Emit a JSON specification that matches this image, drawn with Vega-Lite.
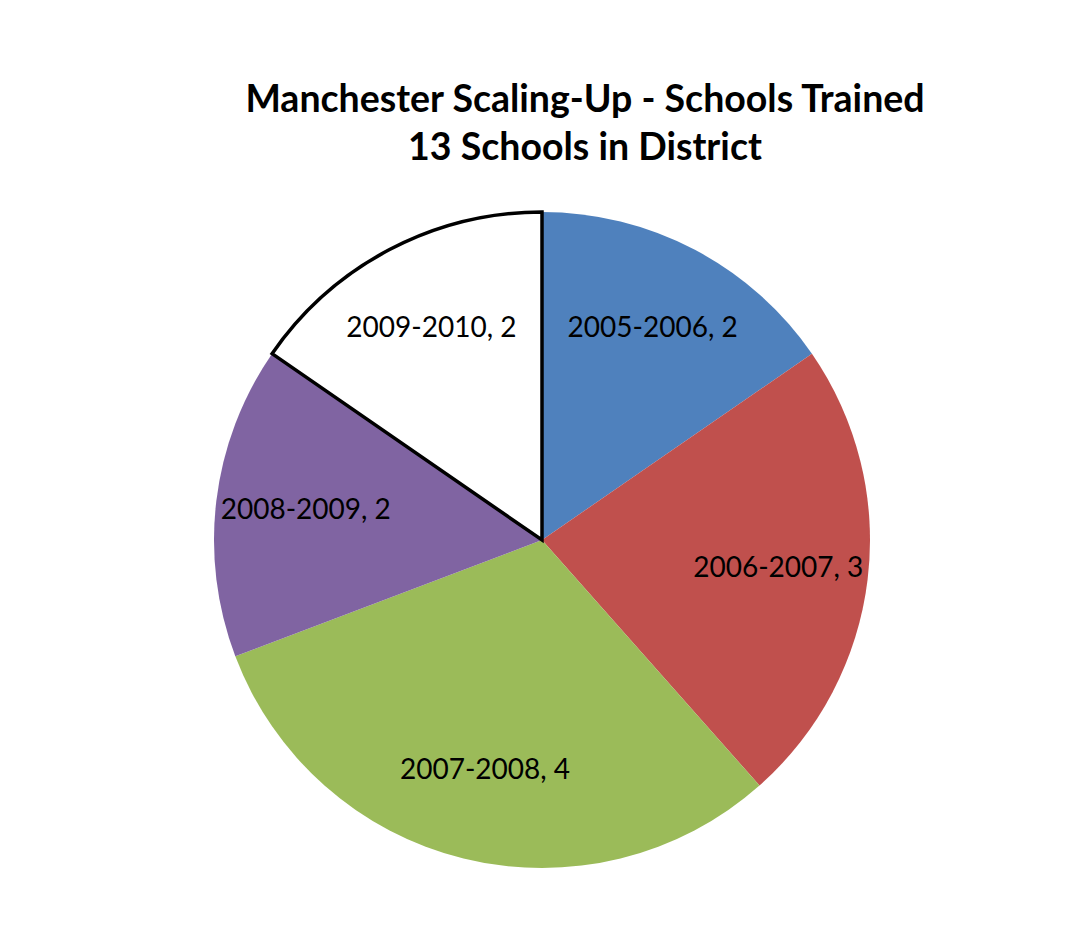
{
  "$schema": "https://vega.github.io/schema/vega-lite/v6.json",
  "autosize": {"type": "none"},
  "width": 656,
  "height": 656,
  "padding": {"left": 214, "top": 212, "right": 195, "bottom": 73},
  "background": "white",
  "config": {"view": {"stroke": null}},
  "title": {
    "text": ["Manchester Scaling-Up - Schools Trained", "13 Schools in District"],
    "font": "Lato",
    "fontSize": 37.5,
    "fontWeight": "bold",
    "color": "black",
    "anchor": "middle",
    "dx": 43,
    "offset": 38,
    "lineHeight": 48
  },
  "data": {
    "values": [
      {"period": "2005-2006", "schools": 2, "order": 1, "label": "2005-2006, 2"},
      {"period": "2006-2007", "schools": 3, "order": 2, "label": "2006-2007, 3"},
      {"period": "2007-2008", "schools": 4, "order": 3, "label": "2007-2008, 4"},
      {"period": "2008-2009", "schools": 2, "order": 4, "label": "2008-2009, 2"},
      {"period": "2009-2010", "schools": 2, "order": 5, "label": "2009-2010, 2"}
    ]
  },
  "encoding": {
    "theta": {"field": "schools", "type": "quantitative", "stack": true},
    "order": {"field": "order", "type": "quantitative"}
  },
  "layer": [
    {
      "mark": {"type": "arc", "outerRadius": 328, "strokeWidth": 3.5, "strokeJoin": "miter"},
      "encoding": {
        "color": {
          "field": "period",
          "type": "nominal",
          "scale": {
            "domain": ["2005-2006", "2006-2007", "2007-2008", "2008-2009", "2009-2010"],
            "range": ["#4F81BD", "#C0504D", "#9BBB59", "#8064A2", "#FFFFFF"]
          },
          "legend": null
        },
        "stroke": {
          "condition": {"test": "datum.period === '2009-2010'", "value": "black"},
          "value": "transparent"
        }
      }
    },
    {
      "mark": {"type": "text", "radius": 238, "font": "Lato", "fontSize": 28, "color": "black", "align": "center", "baseline": "middle"},
      "encoding": {
        "text": {"field": "label", "type": "nominal"}
      }
    }
  ]
}
